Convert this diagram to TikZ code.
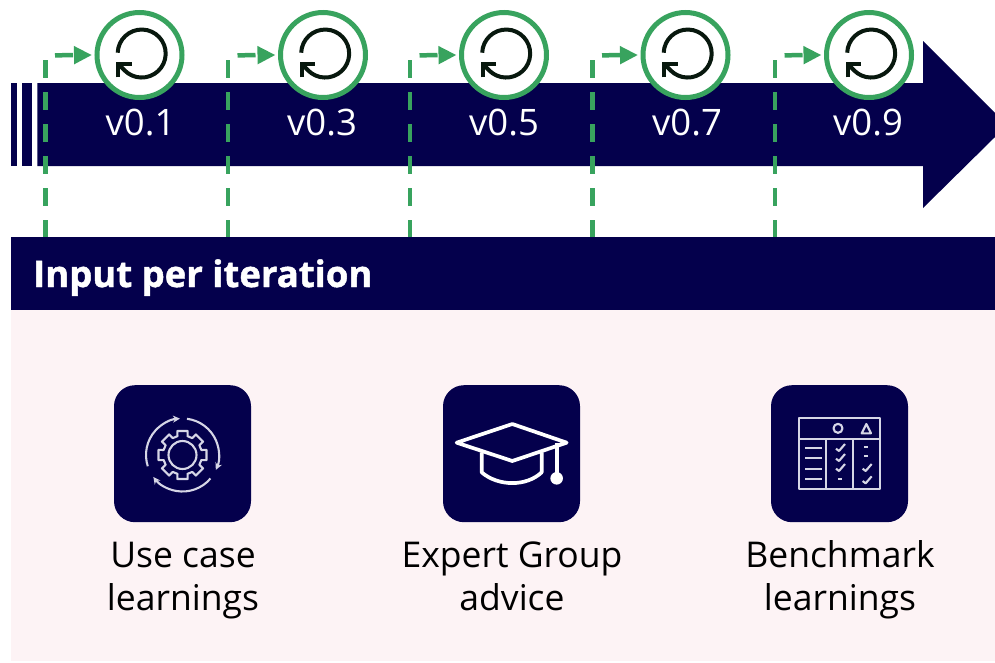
\documentclass[tikz,border=0pt]{standalone}
\usepackage{fontspec}
\setmainfont{Open Sans}
\newfontfamily\heavyfont[BoldFeatures={FakeBold=1.3}]{Open Sans}
\usetikzlibrary{arrows.meta}
\definecolor{navy}{HTML}{04004C}
\definecolor{grn}{HTML}{38A35E}
\definecolor{pinkbg}{HTML}{FDF3F5}
\definecolor{iconline}{HTML}{D6D6E6}
\tikzset{
  iter circle/.style={circle,draw=grn,line width=5pt,fill=white,minimum size=85pt,inner sep=0pt},
  guide line/.style={draw=grn,line width=4.5pt,dash pattern=on 18pt off 14pt},
  step arrow/.style={draw=grn,line width=4.5pt,dash pattern=on 18pt off 30pt,-{Triangle[length=18pt,width=17pt]},shorten >=2.5pt},
  ver label/.style={text=white,font=\fontsize{36.5}{36.5}\selectfont,anchor=base,inner sep=0pt},
  icon box/.style={rectangle,fill=navy,rounded corners=21pt,minimum size=137pt,inner sep=0pt},
  input label/.style={text=black,font=\fontsize{35.5}{43}\selectfont,align=center,inner sep=0pt},
  icon stroke/.style={draw=iconline,line width=2.1pt,line join=round},
  loop stroke/.style={draw=black!85!grn,line width=4pt},
}
\begin{document}
\begin{tikzpicture}[x=1pt,y=-1pt]
\useasboundingbox (0,0) rectangle (995,662);
\fill[white] (0,0) rectangle (995,662);
% main arrow
\fill[navy] (11,83) rectangle (16.7,166);
\fill[navy] (21.7,83) rectangle (32.3,166);
\fill[navy] (37.3,83) -- (923,83) -- (923,41) -- (995,113) -- (995,137) -- (923,208) -- (923,166) -- (37.3,166) -- cycle;
% band and panel
\fill[pinkbg] (11,310) rectangle (995,661);
\node[fill=navy,minimum width=984pt,minimum height=73pt,inner sep=0pt,anchor=north west] (band) at (11,237) {};
\node[anchor=base west,inner sep=0pt,text=white,font=\fontsize{36.5}{36.5}\heavyfont\bfseries] (bandtext) at (33,287) {Input per iteration};
% iterations
\foreach \n/\gx/\cx/\tx/\lab in {1/45.5/139.5/140.5/v0.1,2/228/323/322/v0.3,3/410/504/504/v0.5,4/592.5/685.5/687/v0.7,5/775/869/868/v0.9}{
  \coordinate (gt\n) at (\gx,60);
  \coordinate (gb\n) at (\gx,237);
  \coordinate (hs\n) at (\gx+9.5,55.3);
  \node[iter circle] (c\n) at (\cx,55) {};
  \draw[guide line] (gt\n) -- (gb\n);
  \draw[step arrow] (hs\n) -- (c\n.west);
  \node[ver label] (v\n) at (\tx,135) {\lab};
  \begin{scope}[shift={(\cx+2.2,53.5)},x=1pt,y=1pt]
    \draw[loop stroke] (-24,0.8) arc[start angle=178,end angle=-135,radius=24pt] -- (-22.5,-11.5);
    \draw[loop stroke,line join=miter] (-23.4,-23.8) -- (-23.4,-10.8) -- (-10,-10.8);
  \end{scope}
}
% icon boxes
\node[icon box] (i1) at (182.5,453.7) {};
\node[icon box] (i2) at (511.5,453.7) {};
\node[icon box] (i3) at (839.5,453.7) {};
% gear icon
\begin{scope}[shift={(182.5,455)},x=1pt,y=1pt]
  \draw[icon stroke] (0,0) circle[radius=14pt];
  \draw[icon stroke] (-15:19.5)
    \foreach \a in {0,45,...,315}{
      -- ({\a-15}:19.5) -- ({\a-12}:24.5) -- ({\a+12}:24.5) -- ({\a+15}:19.5)
    } -- cycle;
  \draw[icon stroke,-{Stealth[length=7pt,width=7pt]}] (198:36.5) arc[start angle=198,end angle=94,radius=36.5pt];
  \draw[icon stroke,-{Stealth[length=7pt,width=7pt]}] (83:36.5) arc[start angle=83,end angle=-24,radius=36.5pt];
  \draw[icon stroke,-{Stealth[length=7pt,width=7pt]}] (-40:36.5) arc[start angle=-40,end angle=-143,radius=36.5pt];
\end{scope}
% cap icon
\begin{scope}[shift={(435,375)},x=.3333pt,y=-.3333pt,line width=3.7pt,line join=round]
  \draw[white] (65,203) -- (232,147) -- (395,203) -- (232,258) -- cycle;
  \draw[white] (140,232) -- (140,292) .. controls (190,335) and (275,335) .. (320,292) -- (320,232);
  \draw[white] (365,205) -- (365,300);
  \fill[white] (365,310) circle[radius=6.3pt];
\end{scope}
% table icon
\begin{scope}[shift={(762,375)},x=.3333pt,y=-.3333pt]
  \draw[icon stroke] (110,128) rectangle (355,342);
  \draw[icon stroke] (110,192) -- (355,192);
  \draw[icon stroke] (193,192) -- (193,342);
  \draw[icon stroke] (272,192) -- (272,342);
  \draw[icon stroke] (228,160) circle[radius=4.5pt];
  \draw[icon stroke] (313,147) -- (299,175) -- (327,175) -- cycle;
  \foreach \y in {220,250,281,311}{\draw[icon stroke] (130,\y) -- (180,\y);}
  \foreach \px/\py in {235/215,235/245,235/275,315/275,315/312}{
    \draw[icon stroke] (\px-13,\py+6) -- (\px-4,\py+13) -- (\px+14,\py-8);}
  \foreach \px/\py in {235/311,312/216,312/244}{\draw[icon stroke] (\px-6,\py) -- (\px+6,\py);}
\end{scope}
% labels
\node[input label] (l1) at (183,580.2) {Use case\strut\\learnings\strut};
\node[input label] (l2) at (512,580.2) {Expert Group\strut\\advice\strut};
\node[input label] (l3) at (840,580.2) {Benchmark\strut\\learnings\strut};
\end{tikzpicture}
\end{document}
